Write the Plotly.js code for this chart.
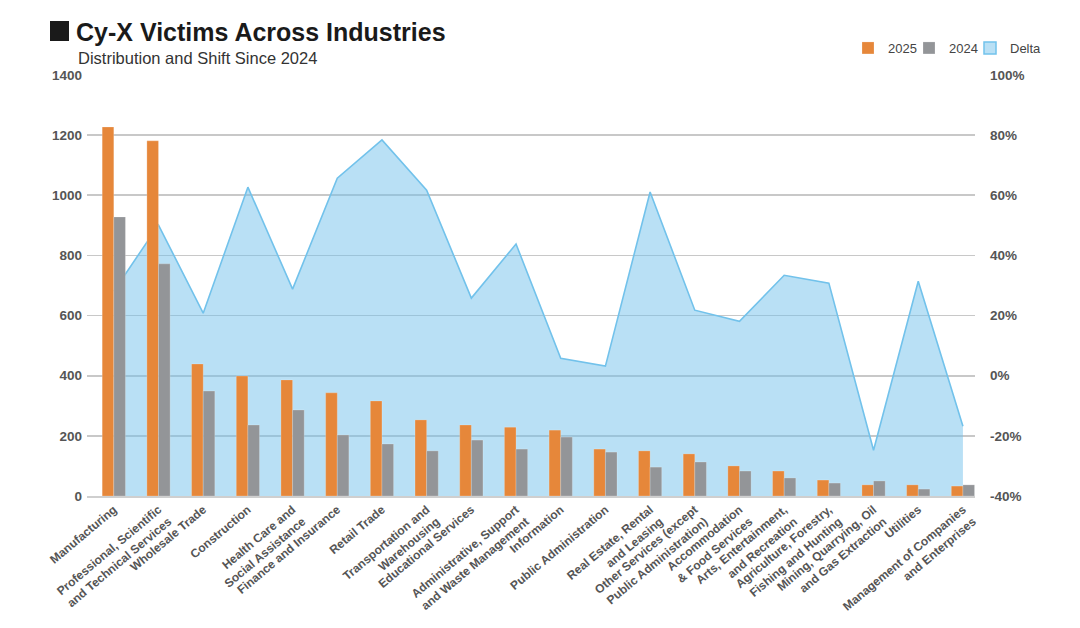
<!DOCTYPE html>
<html>
<head>
<meta charset="utf-8">
<script src="https://cdn.plot.ly/plotly-3.0.1.min.js"></script>
<style>
  html, body { margin: 0; padding: 0; background: #ffffff; }
  #chart { width: 1080px; height: 628px; }
</style>
</head>
<body>
<div id="chart"></div>
<script>
const categories = [
  "Manufacturing",
  "Professional, Scientific<br>and Technical Services",
  "Wholesale Trade",
  "Construction",
  "Health Care and<br>Social Assistance",
  "Finance and Insurance",
  "Retail Trade",
  "Transportation and<br>Warehousing",
  "Educational Services",
  "Administrative, Support<br>and Waste Management",
  "Information",
  "Public Administration",
  "Real Estate, Rental<br>and Leasing",
  "Other Services (except<br>Public Administration)",
  "Accommodation<br>& Food Services",
  "Arts, Entertainment,<br>and Recreation",
  "Agriculture, Forestry,<br>Fishing and Hunting",
  "Mining, Quarrying, Oil<br>and Gas Extraction",
  "Utilities",
  "Management of Companies<br>and Enterprises"
];
const victims2025 = [1227, 1181, 439, 399, 386, 343, 316, 253, 236, 229, 219, 156, 150, 140, 100, 83, 53, 37, 37, 33];
const victims2024 = [928, 772, 349, 236, 286, 203, 173, 150, 186, 156, 196, 146, 96, 113, 83, 60, 43, 50, 23, 37];
const deltaPct = [28.1, 50.1, 20.8, 62.7, 28.8, 65.7, 78.4, 61.7, 25.8, 43.8, 5.8, 3.2, 61.1, 21.8, 18.1, 33.4, 30.8, -24.8, 31.4, -16.8];

const countTicks = [0, 200, 400, 600, 800, 1000, 1200, 1400];
const pctTicks = [-40, -20, 0, 20, 40, 60, 80, 100];
const pctMin = -40;

const ORANGE = "#E6873A";
const GRAY = "#939598";
const FILL = "rgba(112,192,234,0.49)";
const LINE = "#72C2EB";
const FONT = "Liberation Sans, Arial, sans-serif";

const xIdx = categories.map((_, i) => i);
const baseline = categories.map(() => pctMin);
const noValues = categories.map(() => null);

const traces = [
  {
    type: "scatter", mode: "lines", x: xIdx, y: baseline,
    line: { width: 0, color: "rgba(0,0,0,0)" },
    showlegend: false, hoverinfo: "skip", yaxis: "y"
  },
  {
    type: "scatter", mode: "lines", name: "Delta", x: xIdx, y: deltaPct,
    fill: "tonexty", fillcolor: FILL,
    line: { color: LINE, width: 1.6 },
    yaxis: "y", showlegend: false
  },
  {
    type: "bar", name: "Delta", x: xIdx, y: noValues,
    marker: { color: "rgba(112,192,234,0.49)", line: { color: LINE, width: 1.5 } },
    yaxis: "y", legend: "legend3", hoverinfo: "skip"
  },
  {
    type: "bar", name: "2025", x: xIdx, y: victims2025,
    marker: { color: ORANGE, line: { color: "rgba(255,255,255,0.35)", width: 0.6 } },
    yaxis: "y2", legend: "legend"
  },
  {
    type: "bar", name: "2024", x: xIdx, y: victims2024,
    marker: { color: GRAY, line: { color: "rgba(255,255,255,0.35)", width: 0.6 } },
    yaxis: "y2", legend: "legend2"
  }
];

function legendAt(px) {
  return {
    orientation: "h",
    x: (px - 87) / 888, xanchor: "left",
    y: 1 + 27 / 421, yanchor: "middle",
    font: { family: FONT, size: 13, color: "#444444" },
    itemwidth: 30,
    bgcolor: "rgba(0,0,0,0)"
  };
}

const layout = {
  width: 1080, height: 628,
  paper_bgcolor: "#ffffff", plot_bgcolor: "#ffffff",
  font: { family: FONT, color: "#555555" },
  margin: { l: 87, r: 105, t: 75, b: 132, pad: 0 },
  barmode: "group", bargap: 0.48, bargroupgap: 0,
  showlegend: true,
  title: {
    text: "<b>Cy-X Victims Across Industries</b>",
    font: { family: FONT, size: 25, color: "#1a1a1a" },
    xref: "container", yref: "container",
    x: 76 / 1080, xanchor: "left",
    y: 1 - 32 / 628, yanchor: "middle"
  },
  shapes: [{
    type: "rect", xref: "paper", yref: "paper",
    x0: (50 - 87) / 888, x1: (69 - 87) / 888,
    y0: 1 + (75 - 41) / 421, y1: 1 + (75 - 21) / 421,
    fillcolor: "#1a1a1a", line: { width: 0 }
  }],
  annotations: [{
    text: "Distribution and Shift Since 2024",
    xref: "paper", yref: "paper",
    x: (76 - 87) / 888, xanchor: "left",
    y: 1 + (75 - 58) / 421, yanchor: "middle",
    showarrow: false,
    font: { family: FONT, size: 16.5, color: "#333333" }
  }],
  legend: legendAt(848),
  legend2: legendAt(909),
  legend3: legendAt(970),
  xaxis: {
    type: "linear",
    range: [-0.6, 19.27],
    tickmode: "array", tickvals: xIdx, ticktext: categories,
    tickangle: -40,
    tickfont: { family: FONT, size: 12, color: "#555555", weight: "bold" },
    showgrid: false, zeroline: false,
    showline: true, linecolor: "#cfcfcf", linewidth: 2,
    ticks: ""
  },
  yaxis: {
    side: "right",
    range: [-40, 100],
    tickmode: "array", tickvals: pctTicks,
    ticktext: pctTicks.map(v => v + "%"),
    tickfont: { family: FONT, size: 13.5, color: "#555555", weight: "bold" },
    showgrid: true, gridcolor: "#c8c8c8", gridwidth: 1.6,
    zeroline: false, ticks: "", ticklabelstandoff: 14,
    fixedrange: true
  },
  yaxis2: {
    overlaying: "y", side: "left",
    range: [0, 1400],
    tickmode: "array", tickvals: countTicks,
    ticktext: countTicks.map(String),
    tickfont: { family: FONT, size: 13.5, color: "#555555", weight: "bold" },
    showgrid: false, zeroline: false, ticks: "", ticklabelstandoff: 4
  }
};

Plotly.newPlot("chart", traces, layout, { displayModeBar: false, staticPlot: true });
</script>
</body>
</html>
